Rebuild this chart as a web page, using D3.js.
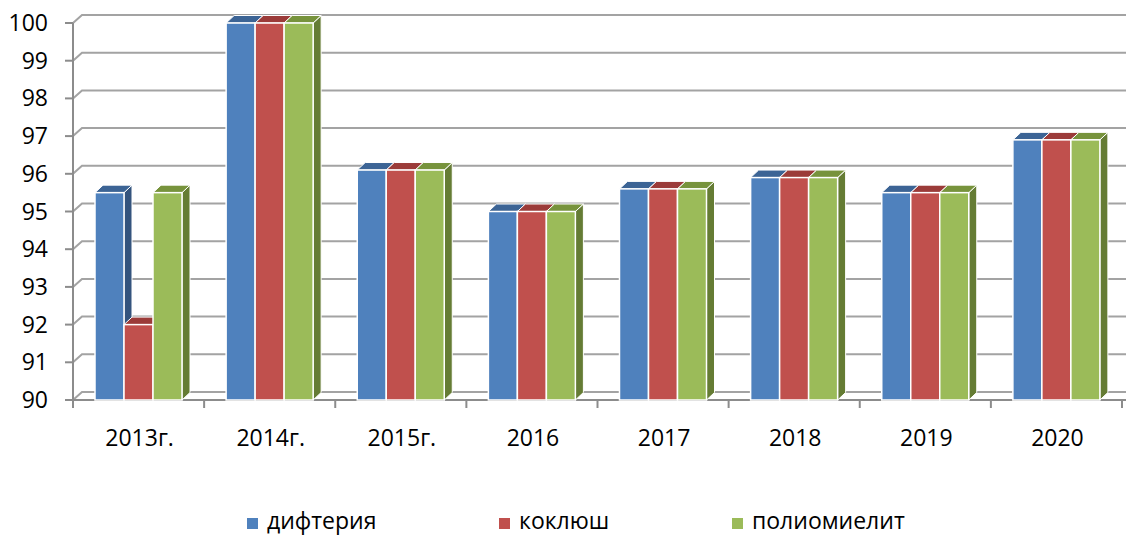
<!DOCTYPE html>
<html lang="ru"><head><meta charset="utf-8">
<title>Охват прививками</title>
<script src="https://cdnjs.cloudflare.com/ajax/libs/d3/7.8.5/d3.min.js"></script>
<style>
  body { margin: 0; background: #fff; }
  .lbl { font-family: "Open Sans", sans-serif; font-size: 23px; fill: #000; }
</style>
</head>
<body>
<svg class="chart" width="1126" height="536"></svg>
<script>
// data
var categories = ["2013г.", "2014г.", "2015г.", "2016", "2017", "2018", "2019", "2020"];
var diphtheria = [95.5, 100, 96.1, 95.0, 95.6, 95.9, 95.5, 96.9];
var pertussis  = [92.0, 100, 96.1, 95.0, 95.6, 95.9, 95.5, 96.9];
var polio      = [95.5, 100, 96.1, 95.0, 95.6, 95.9, 95.5, 96.9];
var seriesNames = ["дифтерия", "коклюш", "полиомиелит"];
var yTicks = [90, 91, 92, 93, 94, 95, 96, 97, 98, 99, 100];

var seriesData = [diphtheria, pertussis, polio];
var colors = [
  {front: "#4f81bd", top: "#3c6495", side: "#34547e"},
  {front: "#c0504d", top: "#9b3b39", side: "#8a3331"},
  {front: "#9bbb59", top: "#77933c", side: "#657c34"}
];

var svg = d3.select(".chart");
var x0 = 73, x1 = 1122, yBase = 400, yTop = 23;
var wallDx = 9, wallDy = -8;   // back wall offset
var barDx = 8, barDy = -7.5;   // bar depth

var x = d3.scaleBand().domain(categories).range([x0, x1]);
var xs = d3.scaleBand().domain(d3.range(3)).range([22, 109]);
var y = d3.scaleLinear().domain([90, 100]).range([yBase, yTop]);

// back gridlines + diagonal connectors
var grid = svg.append("g");
yTicks.forEach(function(t) {
  var yy = y(t);
  grid.append("path")
    .attr("d", "M" + x0 + "," + yy + "L" + (x0 + wallDx) + "," + (yy + wallDy) + "H1126")
    .attr("fill", "none")
    .attr("stroke", "#a3a3a3")
    .attr("stroke-width", 2);
  grid.append("line")
    .attr("x1", x0 - 8).attr("x2", x0)
    .attr("y1", yy).attr("y2", yy)
    .attr("stroke", "#8c8c8c").attr("stroke-width", 2);
  svg.append("text")
    .attr("class", "lbl")
    .attr("x", 48)
    .attr("y", yy + 8)
    .attr("text-anchor", "end")
    .text(t);
});

// axes
svg.append("line")
  .attr("x1", x0).attr("x2", x0).attr("y1", y(100)).attr("y2", yBase + 8)
  .attr("stroke", "#8c8c8c").attr("stroke-width", 2);
svg.append("line")
  .attr("x1", x0 - 8).attr("x2", 1126).attr("y1", yBase).attr("y2", yBase)
  .attr("stroke", "#8c8c8c").attr("stroke-width", 2);
d3.range(categories.length + 1).forEach(function(i) {
  var xx = x0 + i * x.bandwidth();
  svg.append("line")
    .attr("x1", xx).attr("x2", xx).attr("y1", yBase).attr("y2", yBase + 8)
    .attr("stroke", "#8c8c8c").attr("stroke-width", 2);
});

// 3d bars
var bars = svg.append("g");
categories.forEach(function(c, ci) {
  seriesData.forEach(function(vals, si) {
    var bx = x(c) + xs(si), bw = xs.bandwidth();
    var ty = y(vals[ci]);
    var col = colors[si];
    var g = bars.append("g");
    g.append("path")
      .attr("d", "M" + (bx + bw) + "," + ty + "l" + barDx + "," + barDy +
        "V" + (yBase + barDy) + "l" + (-barDx) + "," + (-barDy) + "Z")
      .attr("fill", col.side).attr("stroke", "#fff").attr("stroke-width", 1);
    g.append("path")
      .attr("d", "M" + bx + "," + ty + "l" + barDx + "," + barDy + "h" + bw +
        "l" + (-barDx) + "," + (-barDy) + "Z")
      .attr("fill", col.top).attr("stroke", "#fff").attr("stroke-width", 1);
    g.append("rect")
      .attr("x", bx).attr("y", ty)
      .attr("width", bw).attr("height", yBase - ty)
      .attr("fill", col.front).attr("stroke", "#fff").attr("stroke-width", 1.5);
  });
  svg.append("text")
    .attr("class", "lbl")
    .attr("x", x(c) + x.bandwidth() / 2 + 1)
    .attr("y", 446)
    .attr("text-anchor", "middle")
    .text(c);
});

// legend
var legendX = [247, 499, 732];
seriesNames.forEach(function(n, i) {
  svg.append("rect")
    .attr("x", legendX[i]).attr("y", 518)
    .attr("width", 11).attr("height", 11)
    .attr("fill", colors[i].front);
  svg.append("text")
    .attr("class", "lbl")
    .attr("x", legendX[i] + 20)
    .attr("y", 529)
    .text(n);
});
</script>
</body></html>
